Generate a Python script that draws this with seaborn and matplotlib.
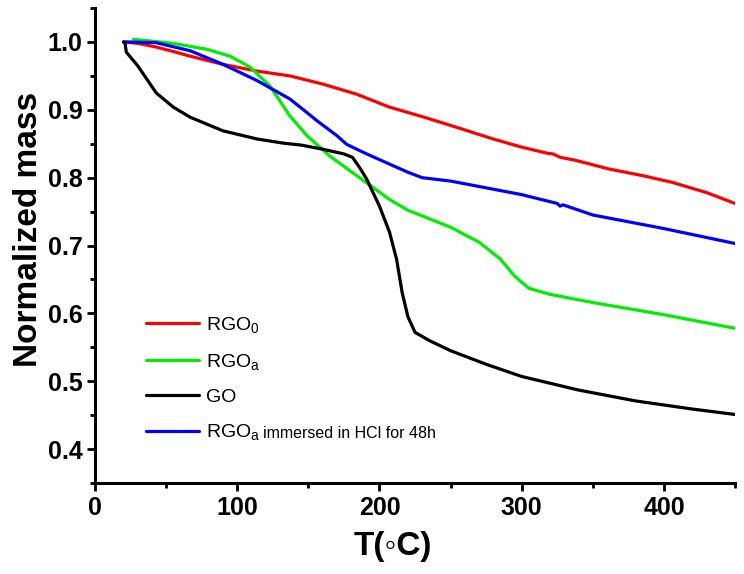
import numpy as np
import pandas as pd
import matplotlib
matplotlib.use('Agg')
import matplotlib.pyplot as plt
from matplotlib.ticker import MultipleLocator
import seaborn as sns

# TGA curves
t_rgo0 = [20, 30, 42, 55, 67, 90, 114, 137, 160, 184, 207, 230, 250, 280, 300, 318, 322, 327, 337, 362, 385, 406, 430, 450]
m_rgo0 = [1.0, 0.998, 0.993, 0.986, 0.979, 0.967, 0.957, 0.950, 0.938, 0.923, 0.904, 0.890, 0.877, 0.857, 0.845, 0.836, 0.835, 0.830, 0.826, 0.8125, 0.803, 0.793, 0.778, 0.762]

t_rgoa = [27, 55, 79, 95, 109, 123, 137, 149, 165, 184, 207, 220, 250, 270, 285, 295, 305, 320, 350, 400, 450]
m_rgoa = [1.004, 0.998, 0.989, 0.979, 0.963, 0.935, 0.891, 0.862, 0.832, 0.803, 0.768, 0.752, 0.727, 0.705, 0.680, 0.655, 0.637, 0.628, 0.616, 0.598, 0.578]

t_go = [20, 21, 22, 30, 43, 55, 67, 90, 114, 132, 145, 160, 175, 181, 186, 191, 200, 207, 212, 216, 220, 225, 235, 250, 275, 300, 340, 380, 420, 450]
m_go = [1.0, 1.0, 0.985, 0.965, 0.925, 0.904, 0.889, 0.869, 0.857, 0.851, 0.848, 0.842, 0.835, 0.830, 0.815, 0.798, 0.758, 0.720, 0.680, 0.630, 0.595, 0.572, 0.560, 0.545, 0.525, 0.507, 0.487, 0.471, 0.459, 0.451]

t_hcl = [22, 43, 67, 90, 114, 137, 146, 156, 170, 177, 190, 207, 220, 230, 250, 280, 300, 325, 327, 329, 350, 400, 450]
m_hcl = [1.0, 0.999, 0.987, 0.967, 0.943, 0.916, 0.901, 0.884, 0.862, 0.849, 0.836, 0.820, 0.808, 0.800, 0.795, 0.783, 0.775, 0.762, 0.758, 0.760, 0.745, 0.725, 0.703]

labels = ['RGO$_0$', 'RGO$_a$', 'GO', 'RGO$_a$ ']
extra_text = 'immersed in HCl for 48h'
colors = ['#ff0000', '#00ee00', '#000000', '#0000ff']

frames = []
for lab, t, m in zip(labels, [t_rgo0, t_rgoa, t_go, t_hcl], [m_rgo0, m_rgoa, m_go, m_hcl]):
    frames.append(pd.DataFrame({'T': t, 'mass': m, 'sample': lab}))
df = pd.concat(frames, ignore_index=True)

sns.set_style('ticks')
plt.rcParams['font.family'] = ['Liberation Sans', 'DejaVu Sans']
plt.rcParams['mathtext.default'] = 'regular'
for key in ['text.color', 'axes.labelcolor', 'xtick.color', 'ytick.color', 'axes.edgecolor']:
    plt.rcParams[key] = 'black'

fig = plt.figure(figsize=(7.44, 5.74), dpi=100)
ax = fig.add_axes([0.1277, 0.1585, 0.8603, 0.8275])

sns.lineplot(data=df, x='T', y='mass', hue='sample', palette=colors, hue_order=labels,
             sort=False, estimator=None, linewidth=2.3, ax=ax)

ax.set_xlim(0, 450)
ax.set_ylim(0.35, 1.05)
ax.xaxis.set_major_locator(MultipleLocator(100))
ax.xaxis.set_minor_locator(MultipleLocator(50))
ax.yaxis.set_major_locator(MultipleLocator(0.1))
ax.yaxis.set_minor_locator(MultipleLocator(0.05))
ax.tick_params(which='major', length=6, width=2, direction='out', labelsize=18, pad=3)
ax.tick_params(which='minor', length=3.5, width=2, direction='out')
for lbl in ax.get_xticklabels() + ax.get_yticklabels():
    lbl.set_fontweight('bold')

sns.despine(ax=ax)
for s in ['left', 'bottom']:
    ax.spines[s].set_linewidth(2.2)

ax.set_xlabel('T(\u25e6C)', fontsize=24, fontweight='bold')
ax.set_ylabel('Normalized mass', fontsize=24, fontweight='bold')
ax.xaxis.set_label_coords(0.466, -0.102)
ax.yaxis.set_label_coords(-0.08, 0.533)

leg = ax.legend(loc='upper left', bbox_to_anchor=(0.053, 0.39), frameon=False,
                fontsize=14, handlelength=2.7, handletextpad=0.35, labelspacing=0.85)
for line in leg.get_lines():
    line.set_linewidth(2.3)

# smaller trailing text after the last legend label
fig.canvas.draw()
last = leg.get_texts()[-1]
bb = last.get_window_extent()
x0, y0 = fig.transFigure.inverted().transform((bb.x1 + 3, bb.y0))
fig.text(x0, y0 + 0.003, extra_text, fontsize=11.5, ha='left', va='bottom')

fig.savefig('out.png', dpi=100)
